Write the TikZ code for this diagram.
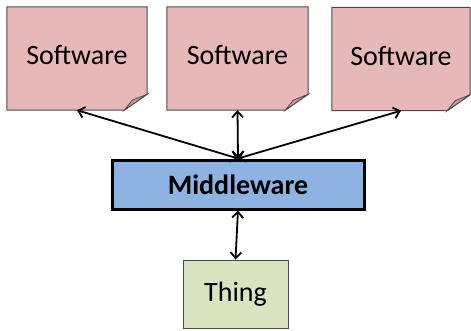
\documentclass[tikz,border=0pt]{standalone}
\usepackage{fontspec}
\setmainfont{Carlito}
\usetikzlibrary{arrows.meta,calc,backgrounds}
\definecolor{softpink}{HTML}{E6B9B8}
\definecolor{foldpink}{HTML}{CC9A99}
\definecolor{midblue}{HTML}{8DB3E2}
\definecolor{thinggreen}{HTML}{D7E4BD}
\definecolor{edgegray}{HTML}{4A4A4A}
\tikzstyle{line} = [draw, line width=1.8pt, {Straight Barb[length=6pt,width=11pt]}-{Straight Barb[length=6pt,width=11pt]}]
\tikzset{
  software/.style={minimum width=140pt, minimum height=103pt, inner sep=0pt, text depth=7pt, font=\fontsize{28}{30}\selectfont},
  middle/.style={draw=black, line width=3pt, fill=midblue, minimum width=252pt, minimum height=49pt, inner sep=0pt, font=\bfseries\fontsize{28}{30}\selectfont},
  thing/.style={draw=edgegray, line width=1pt, fill=thinggreen, minimum width=105pt, minimum height=68pt, inner sep=0pt, font=\fontsize{28}{30}\selectfont}
}
% folded corner note behind a software node
\newcommand{\notefold}[1]{%
  \filldraw[softpink, draw=edgegray, line width=1pt] (#1.north west) -- (#1.north east)
    -- ($(#1.south east)+(0,-16)$) -- ($(#1.south east)+(-23,0)$) -- (#1.south west) -- cycle;
  \filldraw[foldpink, draw=edgegray, line width=0.8pt] ($(#1.south east)+(0,-16)$)
    -- ($(#1.south east)+(-15,-10)$) -- ($(#1.south east)+(-23,0)$) -- cycle;
}

\begin{document}
\begin{tikzpicture}[x=1pt,y=-1pt]
  \useasboundingbox (0,0) rectangle (471,330);
  \node [software] (sw1) at (77,58.5) {Software};
  \node [software, minimum width=141pt] (sw2) at (237.5,58.5) {Software};
  \node [software, minimum width=138pt] (sw3) at (401,59) {Software};
  \begin{scope}[on background layer]
    \notefold{sw1}
    \notefold{sw2}
    \notefold{sw3}
  \end{scope}
  \node [middle] (mw) at (238,184.5) {Middleware};
  \node [thing] (th) at (235.5,294) {Thing};
  \path [line] (sw1.south) -- (mw.north);
  \path [line] (sw2.south) -- (mw.north);
  \path [line] (sw3.south) -- (mw.north);
  \path [line] (mw.south) -- (th.north);
\end{tikzpicture}
\end{document}
